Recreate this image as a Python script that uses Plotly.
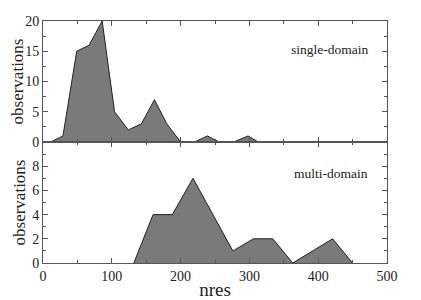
import plotly.graph_objects as go
from plotly.subplots import make_subplots

# single-domain histogram (bin centres, counts)
single_x = [11, 29, 49, 67, 86, 104, 124, 143, 162, 180, 200, 220, 239, 256, 277, 298, 313]
single_y = [0, 1, 15, 16, 20, 5, 2, 3, 7, 3, 0, 0, 1, 0, 0, 1, 0]

# multi-domain histogram
multi_x = [132, 160, 188, 218, 247, 276, 306, 334, 363, 392, 421, 450]
multi_y = [0, 4, 4, 7, 4, 1, 2, 2, 0, 1, 2, 0]

FILL = "#7a7a7a"
LINE = "#222222"
FONT = "Liberation Serif"

fig = make_subplots(rows=2, cols=1, shared_xaxes=True, vertical_spacing=0)

fig.add_trace(go.Scatter(x=single_x, y=single_y, mode="lines", fill="tozeroy",
                         fillcolor=FILL, line=dict(color=LINE, width=1)), row=1, col=1)
fig.add_trace(go.Scatter(x=multi_x, y=multi_y, mode="lines", fill="tozeroy",
                         fillcolor=FILL, line=dict(color=LINE, width=1)), row=2, col=1)

axis_common = dict(showline=True, linecolor="#555", linewidth=1, mirror="allticks",
                   ticks="inside", ticklen=5, tickcolor="#555", showgrid=False,
                   zeroline=False, automargin=False,
                   tickfont=dict(family=FONT, size=14, color="#222"))

fig.update_xaxes(**axis_common, range=[0, 500], dtick=100,
                 minor=dict(dtick=50, ticks="inside", ticklen=3, tickcolor="#555"))
fig.update_xaxes(showticklabels=False, row=1, col=1)
fig.update_xaxes(title=dict(text="nres", font=dict(family=FONT, size=19, color="#222"), standoff=0),
                 row=2, col=1)

fig.update_yaxes(**axis_common)
fig.update_yaxes(range=[0, 20], dtick=5,
                 minor=dict(dtick=2.5, ticks="inside", ticklen=3, tickcolor="#555"),
                 title=dict(text="observations", font=dict(family=FONT, size=17, color="#222"), standoff=2),
                 row=1, col=1)
fig.update_yaxes(range=[0, 10], tickvals=[0, 2, 4, 6, 8],
                 minor=dict(dtick=1, ticks="inside", ticklen=3, tickcolor="#555"),
                 title=dict(text="observations", font=dict(family=FONT, size=17, color="#222"), standoff=2),
                 row=2, col=1)

fig.add_annotation(text="single-domain", xref="x domain", yref="y domain", x=0.95, y=0.84,
                   xanchor="right", showarrow=False, font=dict(family=FONT, size=13.5, color="#222"))
fig.add_annotation(text="multi-domain", xref="x2 domain", yref="y2 domain", x=0.95, y=0.82,
                   xanchor="right", showarrow=False, font=dict(family=FONT, size=13.5, color="#222"))

# page body adds an 8px margin, so the figure is sized to fit inside the window
fig.update_layout(width=413, height=292, showlegend=False,
                  paper_bgcolor="white", plot_bgcolor="white",
                  margin=dict(l=35, r=34, t=13, b=37))

fig.write_html("out.html")
